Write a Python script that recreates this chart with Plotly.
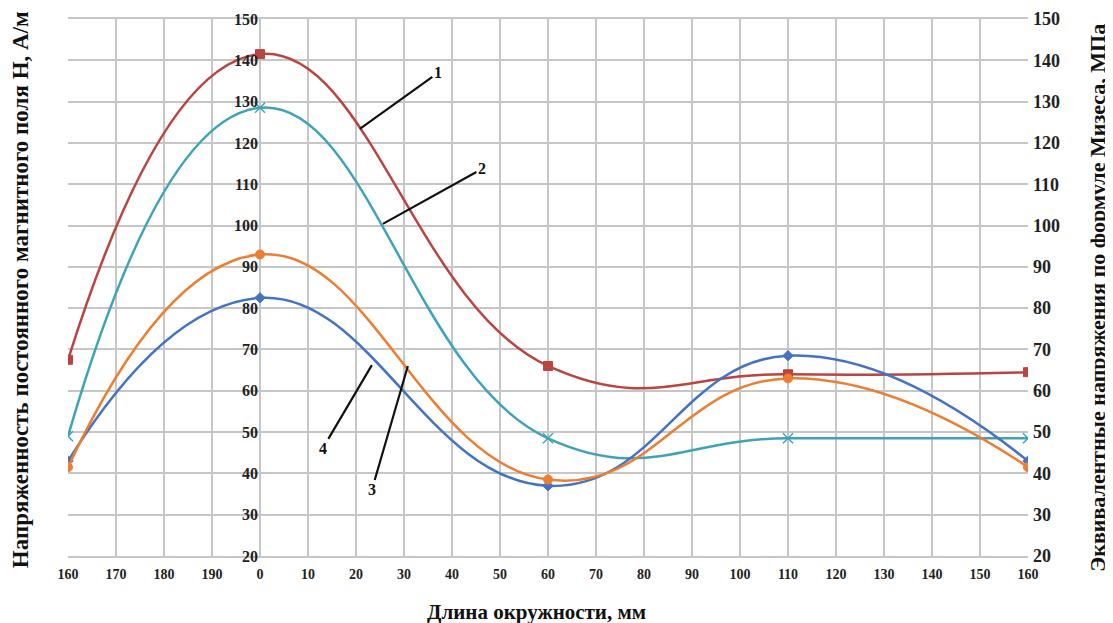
import plotly.graph_objects as go

# category axis (circumference position, mm)
tick_labels = ["160", "170", "180", "190", "0", "10", "20", "30", "40", "50", "60",
               "70", "80", "90", "100", "110", "120", "130", "140", "150", "160"]
point_labels = ["160", "0", "60", "110", "160"]
point_idx = [0, 4, 10, 15, 20]

s1_red = [67.5, 141.5, 66.0, 64.0, 64.5]
s2_teal = [49.0, 128.5, 48.5, 48.5, 48.5]
s3_orange = [41.5, 93.0, 38.5, 63.0, 41.5]
s4_blue = [43.0, 82.5, 37.0, 68.5, 43.0]

FONT = "Liberation Serif"
GRID = "#c6c6c6"

fig = go.Figure()

def add(y, color, symbol, size, lw=1):
    fig.add_trace(go.Scatter(
        x=point_idx, y=y, mode="lines+markers",
        line=dict(color=color, width=2.5, shape="spline", smoothing=1.3),
        marker=dict(symbol=symbol, size=size, color=color, line=dict(color=color, width=lw)),
        showlegend=False, hoverinfo="skip"))

add(s1_red, "#B94441", "square", 9)
add(s2_teal, "#3FA3B8", "x-thin-open", 10, 1.5)
add(s4_blue, "#4472C4", "diamond", 8)
add(s3_orange, "#ED7D31", "circle", 9)

# dummy trace for right axis
fig.add_trace(go.Scatter(x=[None], y=[None], yaxis="y2", showlegend=False, hoverinfo="skip"))

# page body has an 8px margin: figure is sized/offset to compensate
fig.update_layout(
    width=1105, height=615,
    margin=dict(l=60, r=85, t=11, b=67, autoexpand=False),
    plot_bgcolor="white", paper_bgcolor="white",
    font=dict(family=FONT, color="#222222"),
    xaxis=dict(range=[0, 20], tickvals=list(range(21)), ticktext=[f"<b>{t}</b>" for t in tick_labels],
               showgrid=True, gridcolor=GRID, gridwidth=1.5, zeroline=False, automargin=False,
               showline=True, linecolor=GRID, linewidth=1.5, mirror=True, ticks="",
               tickfont=dict(size=14, family=FONT, color="#222222"), ticklabelstandoff=4),
    yaxis=dict(range=[20, 150], dtick=10, anchor="free", position=0.2, automargin=False,
               showgrid=True, gridcolor=GRID, gridwidth=1.5, zeroline=False, showline=False,
               ticks="", tickfont=dict(size=16, family=FONT, color="#222222"),
               tickprefix="<b>", ticksuffix="</b>", ticklabelstandoff=2),
    yaxis2=dict(range=[20, 150], dtick=10, overlaying="y", side="right", anchor="x", automargin=False,
                showgrid=False, zeroline=False, showline=False, ticks="",
                tickfont=dict(size=18, family=FONT, color="#222222"),
                tickprefix="<b>", ticksuffix="</b>", ticklabelstandoff=4),
)

ann = [
    dict(text="<b>Напряженность постоянного магнитного поля Н, А/м</b>", x=-0.05, y=0.495,
         textangle=-90, size=23),
    dict(text="<b>Эквивалентные напряжения по формуле Мизеса, МПа</b>", x=1.0729, y=0.481,
         textangle=-90, size=22),
    dict(text="<b>Длина окружности, мм</b>", x=0.4875, y=-0.104, textangle=0, size=21),
]
for a in ann:
    fig.add_annotation(text=a["text"], x=a["x"], y=a["y"], xref="paper", yref="paper",
                       xanchor="center", yanchor="middle", textangle=a["textangle"],
                       showarrow=False, font=dict(size=a["size"], family=FONT, color="#111111"))

labels = [("1", 6.08, 123.4, 78, -56), ("2", 6.56, 100.4, 99, -55),
          ("4", 6.33, 66.2, -49, 83), ("3", 7.08, 66.0, -36, 124)]
for t, x, y, ax, ay in labels:
    fig.add_annotation(text=f"<b>{t}</b>", x=x, y=y, xref="x", yref="y", ax=ax, ay=ay,
                       showarrow=True, arrowhead=0, arrowwidth=2.2, arrowcolor="#111111",
                       font=dict(size=16, family=FONT, color="#111111"))

fig.write_html("out.html")
